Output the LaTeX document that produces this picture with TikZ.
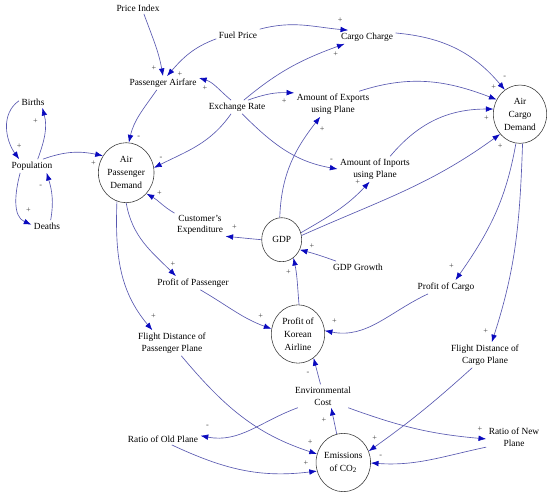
\documentclass[tikz,border=0pt]{standalone}
\usepackage{fontspec}
\setmainfont{Liberation Serif}
\usetikzlibrary{arrows.meta,shapes.geometric}
\definecolor{linkc}{RGB}{88,88,176}
\definecolor{tipc}{RGB}{10,10,190}
\definecolor{rimc}{RGB}{60,60,60}

\begin{document}
\begin{tikzpicture}[
  x=0.3mm, y=0.3mm,
  font=\fontsize{8}{10}\selectfont,
  var/.style={inner sep=2pt,align=center},
  hub/.style={ellipse,draw=rimc,line width=0.5pt,inner sep=0pt,align=center,
              font=\fontsize{8}{11}\selectfont,minimum width=16mm,minimum height=17.5mm},
  ar/.style={draw=linkc,line width=0.55pt,-{Latex[length=2.3mm,width=1.7mm,color=tipc]}},
  pol/.style={font=\fontsize{7}{7}\selectfont,text=black!75,inner sep=0pt},
]
\useasboundingbox (0,0) rectangle (550,-497);

% ---- Stocks
\node[hub,minimum width=16.7mm,minimum height=18mm] (apd) at (126.2,-172.7) {Air\\Passenger\\Demand};
\node[hub] (acd) at (520,-114.2) {Air\\Cargo\\Demand};
\node[hub,minimum width=12mm,minimum height=13.2mm] (gdp) at (281.7,-239.7) {GDP};
\node[hub] (pka) at (298,-334) {Profit of\\Korean\\Airline};
\node[hub] (co2) at (343.3,-462.5) {Emissions\\of CO\textsubscript{2}};

% ---- Variables
\node[var] (pidx)   at (138,-8)   {Price Index};
\node[var] (fuel)   at (238,-35)  {Fuel Price};
\node[var] (pfare)  at (163,-83)  {Passenger Airfare};
\node[var] (exch)   at (237,-107) {Exchange Rate};
\node[var] (births) at (33,-102)  {Births};
\node[var] (pop)    at (32,-166)  {Population};
\node[var] (deaths) at (47,-226)  {Deaths};
\node[var] (cchg)   at (367,-37)  {Cargo Charge};
\node[var] (expo)   at (333,-104) {Amount of Exports\\using Plane};
\node[var] (impo)   at (375,-169) {Amount of Inports\\using Plane};
\node[var] (cexp)   at (200,-225) {Customer's\\Expenditure};
\node[var] (gdpg)   at (358,-267) {GDP Growth};
\node[var] (ppas)   at (193,-283) {Profit of Passenger};
\node[var] (pcar)   at (446,-287) {Profit of Cargo};
\node[var] (fdpp)   at (172,-343) {Flight Distance of\\Passenger Plane};
\node[var] (fdcp)   at (485,-355) {Flight Distance of\\Cargo Plane};
\node[var] (envc)   at (323,-396) {Environmental\\Cost};
\node[var] (rold)   at (163,-439) {Ratio of Old Plane};
\node[var] (rnew)   at (514,-437) {Ratio of New\\Plane};

% ---- Prices and exchange rate
\draw[ar] (pidx.-45) to[out=-70,in=100] node[pol,at end,shift={(-9,8)}]{+} (pfare.north);
\draw[ar] (fuel.190) to[out=200,in=49] node[pol,at end,shift={(13,2)}]{+} (pfare.60);
\draw[ar] (fuel.15) to[out=15,in=175] node[pol,at end,shift={(-8,10)}]{+} (cchg.160);
\draw[ar] (exch.45) to[out=40,in=200] node[pol,at end,shift={(-9,-10)}]{+} (cchg.197);
\draw[ar] (exch.131) to[out=140,in=-17] node[pol,at end,shift={(6,-10)}]{+} (pfare.8);
\draw[ar] (exch.32) to[out=20,in=178] node[pol,at end,shift={(-10,-8)}]{+} (expo.164);
\draw[ar] (exch.-53) to[out=-45,in=170] node[pol,at end,shift={(-6,9)}]{-} (impo.180);
\draw[ar] (exch.-131) to[out=-125,in=27] node[pol,at end,shift={(7,9)}]{-} (apd.10);
\draw[ar] (pfare.-132) to[out=-125,in=77] node[pol,at end,shift={(10,5)}]{-} (apd.85);

% ---- Population
\draw[ar] (pop.32) to[out=20,in=168] node[pol,at end,shift={(-9.5,-7)}]{+} (apd.144);
\draw[ar] (births.175) to[out=215,in=126] node[pol,at end,shift={(0,13)}]{+} (pop.152);
\draw[ar] (pop.50) to[out=70,in=-75] node[pol,at end,shift={(-7,-13)}]{+} (births.-32);
\draw[ar] (deaths.58) to[out=80,in=-73] node[pol,at end,shift={(-6,-14)}]{-} (pop.-25);
\draw[ar] (pop.-150) to[out=-105,in=157] node[pol,at end,shift={(-3,14)}]{+} (deaths.175);

% ---- GDP
\draw[ar] (cexp.155) to[out=150,in=-29] node[pol,at end,shift={(13,1)}]{+} (apd.-46);
\draw[ar] (gdp.180) to[out=175,in=-5] node[pol,at end,shift={(9,9.6)}]{+} (cexp.-24);
\draw[ar] (gdp.95) to[out=88,in=-128] node[pol,at end,shift={(2,-12)}]{+} (expo.-135);
\draw[ar] (gdp.20) to[out=30,in=-133] node[pol,at end,shift={(-12,0)}]{+} (impo.-113);
\draw[ar] (gdp.12) to[out=24,in=-144] node[pol,at end,shift={(0,-12)}]{+} (acd.-135);
\draw[ar] (gdpg.165) to[out=160,in=-15] node[pol,at end,shift={(12,4)}]{+} (gdp.-29);
\draw[ar] (pka.88) to[out=95,in=-78] node[pol,at end,shift={(-5,-14.5)}]{+} (gdp.-57);

% ---- Cargo demand
\draw[ar] (cchg.8) to[out=-5,in=130] node[pol,at end,shift={(0,12)}]{-} (acd.122);
\draw[ar] (expo.26) to[out=18,in=159] node[pol,at end,shift={(-3,12)}]{+} (acd.148);
\draw[ar] (impo.40) to[out=50,in=180] node[pol,at end,shift={(-7,-9.6)}]{+} (acd.169);
\draw[ar] (acd.-98) to[out=-100,in=55] node[pol,at end,shift={(-4,14)}]{+} (pcar.36);
\draw[ar] (acd.-85) to[out=-92,in=72] node[pol,at end,shift={(-6,11)}]{+} (fdcp.62);

% ---- Profit
\draw[ar] (apd.-90) to[out=-80,in=135] node[pol,at end,shift={(-3,12)}]{+} (ppas.158);
\draw[ar] (apd.-108) to[out=-92,in=130] node[pol,at end,shift={(1,14)}]{+} (fdpp.147);
\draw[ar] (ppas.-43) to[out=-30,in=160] node[pol,at end,shift={(-10.7,12.3)}]{+} (pka.169);
\draw[ar] (pcar.-159) to[out=-155,in=-11] node[pol,at end,shift={(9.7,9.7)}]{+} (pka.7);
\draw[ar] (envc.102) -- node[pol,at end,shift={(-5.7,-15)}]{-} (pka.-57);

% ---- Emissions
\draw[ar] (co2.103) -- node[pol,at end,shift={(-7.3,-12.2)}]{+} (envc.-55);
\draw[ar] (envc.-155) to[out=200,in=-11] node[pol,at end,shift={(7,9)}]{-} (rold.5);
\draw[ar] (envc.-25) to[out=-20,in=175] node[pol,at end,shift={(-6.3,10)}]{+} (rnew.-176);
\draw[ar] (rold.-34) to[out=-25,in=-173] node[pol,at end,shift={(-11,8)}]{+} (co2.-162);
\draw[ar] (fdpp.-54) to[out=-50,in=162] node[pol,at end,shift={(-6.7,11.5)}]{+} (co2.162);
\draw[ar] (fdcp.-135) to[out=-138,in=35.5] node[pol,at end,shift={(6,13)}]{+} (co2.24);
\draw[ar] (rnew.-160) to[out=192,in=-4] node[pol,at end,shift={(10,7)}]{-} (co2.-1);

\end{tikzpicture}
\end{document}
